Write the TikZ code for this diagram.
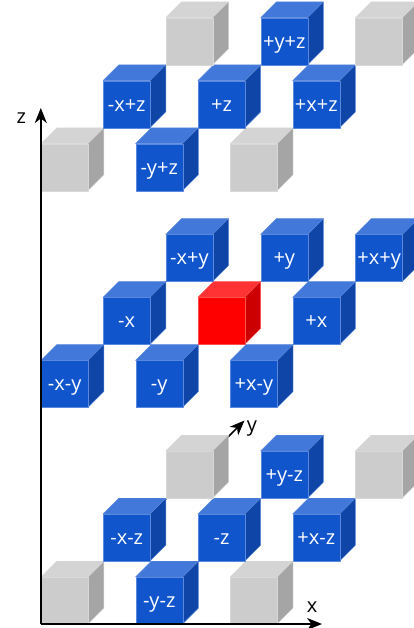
\documentclass[tikz,border=0pt]{standalone}
\usepackage{fontspec}
\setmainfont{Open Sans}
\usetikzlibrary{arrows.meta}
\definecolor{bf}{HTML}{1155CC}
\definecolor{bt}{HTML}{4178D9}
\definecolor{bs}{HTML}{0F45A6}
\definecolor{be}{HTML}{5A88DC}
\definecolor{gf}{HTML}{CCCCCC}
\definecolor{gt}{HTML}{D4D4D4}
\definecolor{gs}{HTML}{A5A5A5}
\definecolor{ge}{HTML}{D8D8D8}
\definecolor{rf}{HTML}{FF0000}
\definecolor{rt}{HTML}{FF3333}
\definecolor{rs}{HTML}{CC0000}
\definecolor{re}{HTML}{FF5050}
\tikzset{
  facebox/.style={draw=#1,line width=0.4pt,line join=round},
  cubefront/.style={rectangle,inner sep=0pt,minimum width=47pt,minimum height=47pt,
    text=white,font=\fontsize{20}{20}\selectfont,text height=13.6pt,text depth=0pt,anchor=north west},
  axisline/.style={black,line width=1.5pt,-{Stealth[length=15pt,width=12pt,inset=4.5pt]}},
  axislabel/.style={black,font=\fontsize{20}{20}\selectfont,inner sep=0pt,anchor=base},
}
% #1 name, #2 left, #3 top, #4 colour prefix, #5 label
\newcommand{\cubeat}[5]{%
  \fill[#4t,facebox=#4e] (#2,#3) -- ++(15.8,-15.8) -- ++(47,0) -- ++(-15.8,15.8) -- cycle;
  \fill[#4s,facebox=#4e] (#2+47,#3) -- ++(15.8,-15.8) -- ++(0,47) -- ++(-15.8,15.8) -- cycle;
  \node[cubefront,fill=#4f,facebox=#4e] (#1) at (#2,#3) {#5};
}
\begin{document}
\begin{tikzpicture}[x=1pt,y=-1pt]
\useasboundingbox (0,0) rectangle (414,628);
\clip (0,0) rectangle (414,628);
\coordinate (origin) at (40.8,624);
\coordinate (xend) at (322,624);
\coordinate (zend) at (40.8,108);
\coordinate (yend) at (244.5,420.5);
\draw[axisline] (origin) -- (yend);
% upper layer
\cubeat{a1}{41}{143.7}{g}{}
\cubeat{a2}{135.5}{143.7}{b}{-y+z}
\cubeat{a3}{230.2}{143.7}{g}{}
\cubeat{a4}{103}{80.7}{b}{-x+z}
\cubeat{a5}{197.8}{80.7}{b}{+z}
\cubeat{a6}{292.6}{80.7}{b}{+x+z}
\cubeat{a7}{165.7}{17.7}{g}{}
\cubeat{a8}{260.6}{17.7}{b}{+y+z}
\cubeat{a9}{355.4}{17.7}{g}{}
% middle layer
\cubeat{b1}{41}{360.4}{b}{-x-y}
\cubeat{b2}{135.5}{360.4}{b}{-y}
\cubeat{b3}{230.2}{360.4}{b}{+x-y}
\cubeat{b4}{103}{297.4}{b}{-x}
\cubeat{b5}{197.8}{297.4}{r}{}
\cubeat{b6}{292.6}{297.4}{b}{+x}
\cubeat{b7}{165.7}{234.4}{b}{-x+y}
\cubeat{b8}{260.6}{234.4}{b}{+y}
\cubeat{b9}{355.4}{234.4}{b}{+x+y}
% lower layer
\cubeat{c1}{41}{577}{g}{}
\cubeat{c2}{135.5}{577}{b}{-y-z}
\cubeat{c3}{230.2}{577}{g}{}
\cubeat{c4}{103}{514}{b}{-x-z}
\cubeat{c5}{197.8}{514}{b}{-z}
\cubeat{c6}{292.6}{514}{b}{+x-z}
\cubeat{c7}{165.7}{451}{g}{}
\cubeat{c8}{260.6}{451}{b}{+y-z}
\cubeat{c9}{355.4}{451}{g}{}
\draw[axisline] (origin) -- (xend);
\draw[axisline] (origin) -- (zend);
\node[axislabel] (zlab) at (21.2,123.3) {z};
\node[axislabel] (ylab) at (252,431) {y};
\node[axislabel] (xlab) at (312.2,612) {x};
\end{tikzpicture}
\end{document}
